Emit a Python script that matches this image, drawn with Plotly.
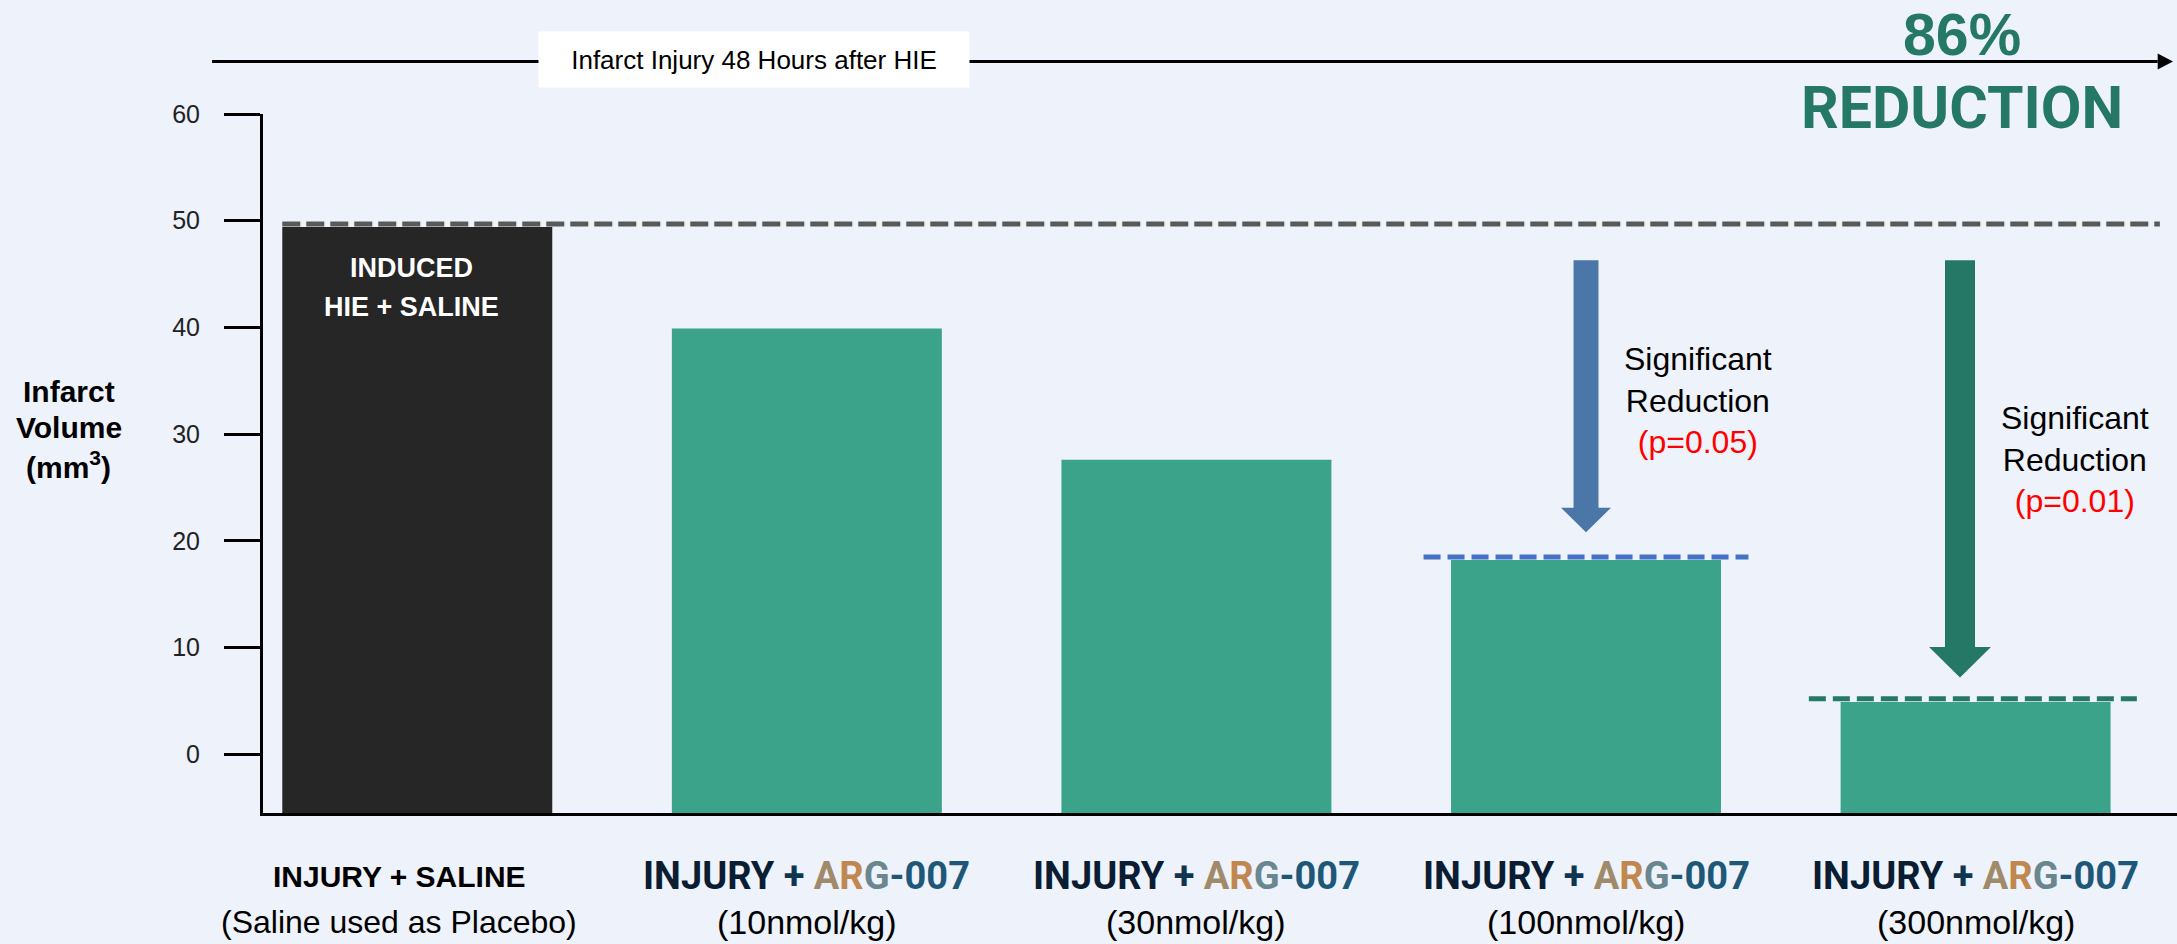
import plotly.graph_objects as go

# ---------------- data ----------------
categories = ["Saline", "10nmol/kg", "30nmol/kg", "100nmol/kg", "300nmol/kg"]
positions = [0, 1, 2, 3, 4]
infarct_volume = [49.4, 39.9, 27.6, 18.2, 4.9]
y_ticks = [0, 10, 20, 30, 40, 50, 60]
label_line1 = [
    "INJURY + SALINE",
    "INJURY + ARG-007",
    "INJURY + ARG-007",
    "INJURY + ARG-007",
    "INJURY + ARG-007",
]
label_line2 = [
    "(Saline used as Placebo)",
    "(10nmol/kg)",
    "(30nmol/kg)",
    "(100nmol/kg)",
    "(300nmol/kg)",
]
saline_level = 49.7
dose_levels = [18.5, 5.2]          # dashed markers at 100 & 300 nmol/kg
arrow_x = [3.0, 3.96]
arrow_top = [46.3, 46.3]
arrow_head_base = [23.1, 10.06]
arrow_tip = [20.8, 7.2]
p_values = ["(p=0.05)", "(p=0.01)"]
y_title_lines = ["Infarct", "Volume", "(mm<sup>3</sup>)"]
bar_text_lines = ["INDUCED", "HIE + SALINE"]

# ---------------- style ----------------
Y_MIN, Y_MAX = -5.5, 60
X_MIN, X_MAX = -0.396, 4.517
BAR_W = 0.693
BG = "#EEF2FA"
GREEN = "#3AA38A"
DARK_GREEN = "#267866"
BLUE = "#4A76A8"
DASH_BLUE = "#4472C4"
bar_colors = ["#262626", GREEN, GREEN, GREEN, GREEN]
SANS = "Liberation Sans, Arial, sans-serif"
ROBOTO = "Roboto, Liberation Sans, sans-serif"

fig = go.Figure()
fig.add_trace(go.Bar(
    x=positions,
    y=[v - Y_MIN for v in infarct_volume],
    base=[Y_MIN] * len(positions),
    width=BAR_W,
    marker=dict(color=bar_colors, line=dict(width=0)),
    hoverinfo="skip",
    showlegend=False,
))

shapes = []
# saline reference dashed line
shapes.append(dict(type="line", xref="x", yref="y",
                   x0=positions[0] - BAR_W / 2, x1=4.473,
                   y0=saline_level, y1=saline_level,
                   line=dict(color="#595959", width=5, dash="18px,6px")))
# dose-level dashed lines
dash_specs = [(positions[3], 0.417, DASH_BLUE), (3.993, 0.421, DARK_GREEN)]
for (cx, half, col), lvl in zip(dash_specs, dose_levels):
    shapes.append(dict(type="line", xref="x", yref="y",
                       x0=cx - half, x1=cx + half, y0=lvl, y1=lvl,
                       line=dict(color=col, width=5, dash="17px,7px")))

# thick arrows
arrow_cols = [BLUE, DARK_GREEN]
shaft_half = [0.032, 0.0385]
head_half = [0.064, 0.0795]
for i in range(2):
    cx = arrow_x[i]
    s, h = shaft_half[i], head_half[i]
    path = (f"M {cx - s},{arrow_top[i]} L {cx + s},{arrow_top[i]} "
            f"L {cx + s},{arrow_head_base[i]} L {cx + h},{arrow_head_base[i]} "
            f"L {cx},{arrow_tip[i]} L {cx - h},{arrow_head_base[i]} "
            f"L {cx - s},{arrow_head_base[i]} Z")
    shapes.append(dict(type="path", xref="x", yref="y", path=path,
                       fillcolor=arrow_cols[i], line=dict(width=0)))

# top timeline arrow (paper coordinates)
TL_Y, TL_X0, TL_X1 = 1.075, -0.0266, 0.9979
HEAD_LEN, HEAD_HALF = 0.0080, 0.0115
shapes.append(dict(type="line", xref="paper", yref="paper",
                   x0=TL_X0, x1=TL_X1 - HEAD_LEN, y0=TL_Y, y1=TL_Y,
                   line=dict(color="black", width=3)))
shapes.append(dict(type="path", xref="paper", yref="paper",
                   path=(f"M {TL_X1 - HEAD_LEN},{TL_Y - HEAD_HALF} L {TL_X1},{TL_Y} "
                         f"L {TL_X1 - HEAD_LEN},{TL_Y + HEAD_HALF} Z"),
                   fillcolor="black", line=dict(width=0)))

annotations = []


def ann(**kw):
    kw.setdefault("showarrow", False)
    kw.setdefault("xanchor", "center")
    kw.setdefault("yanchor", "middle")
    annotations.append(kw)


ann(xref="paper", yref="paper", x=0.2565, y=1.0786,
    text="Infarct Injury 48 Hours after HIE",
    bgcolor="white", width=420, height=45, borderpad=5,
    font=dict(family=SANS, size=26, color="black"))
# 86% REDUCTION
ann(xref="paper", yref="paper", x=0.8877, y=1.1137, text="<b>86%</b>",
    font=dict(family=SANS, size=59, color=DARK_GREEN))
ann(xref="paper", yref="paper", x=0.8877, y=1.009, text="<b>REDUCTION</b>",
    font=dict(family=ROBOTO, size=59, color=DARK_GREEN))
# y-axis title, one line at a time
for line, py in zip(y_title_lines, [0.6026, 0.5511, 0.4981]):
    ann(xref="paper", yref="paper", x=-0.1014, y=py, text=f"<b>{line}</b>",
        font=dict(family=SANS, size=30, color="black"))
# text inside saline bar
for line, dy in zip(bar_text_lines, [45.6, 41.95]):
    ann(xref="x", yref="y", x=positions[0], y=dy, xshift=-6,
        text=f"<b>{line}</b>",
        font=dict(family=SANS, size=27, color="white"))
# significance texts
sig_pos = [(3.287, 33.2), (4.255, 27.6)]
for (sx, sy), p in zip(sig_pos, p_values):
    ann(xref="x", yref="y", x=sx, y=sy, align="center",
        text=f"Significant<br>Reduction<br><span style='color:#FF0000'>{p}</span>",
        font=dict(family=SANS, size=32, color="black"))


def arg_label(txt):
    head, plus, drug = txt.partition(" + ")
    return (f"<b><span style='color:#0B1D33'>{head} </span>"
            "<span style='color:#0F3550'>+ </span>"
            f"<span style='color:#A08A6A'>{drug[0]}</span>"
            f"<span style='color:#C08850'>{drug[1]}</span>"
            f"<span style='color:#6A8790'>{drug[2]}</span>"
            f"<span style='color:#1E5878'>{drug[3:]}</span></b>")


for i, pos in enumerate(positions):
    if i == 0:
        t1 = f"<b>{label_line1[i]}</b>"
        f1 = dict(family=SANS, size=30, color="black")
        f2 = dict(family=SANS, size=32, color="black")
        xs = -18
    else:
        t1 = arg_label(label_line1[i])
        f1 = dict(family=ROBOTO, size=38, color="#0B1D33")
        f2 = dict(family=SANS, size=34, color="black")
        xs = 0
    ann(xref="x", yref="paper", x=pos, y=-0.0902, xshift=xs, text=t1, font=f1)
    ann(xref="x", yref="paper", x=pos, y=-0.156, xshift=xs,
        text=label_line2[i], font=f2)

fig.update_layout(
    width=2177, height=944, autosize=False,
    margin=dict(l=263, r=0, t=114, b=131, pad=0),
    paper_bgcolor=BG, plot_bgcolor=BG,
    shapes=shapes, annotations=annotations,
    showlegend=False,
    xaxis=dict(range=[X_MIN, X_MAX], showticklabels=False, ticks="",
               showgrid=False, zeroline=False, showline=True,
               linecolor="black", linewidth=3, fixedrange=True),
    yaxis=dict(range=[Y_MIN, Y_MAX], tickvals=y_ticks, ticks="outside",
               ticklen=36, tickwidth=3, tickcolor="black",
               ticklabelstandoff=19,
               tickfont=dict(family=SANS, size=25, color="#222222"),
               showgrid=False, zeroline=False, showline=True,
               linecolor="black", linewidth=3, fixedrange=True),
)

fig.write_html(
    "out.html",
    config={"displayModeBar": False},
    post_script="document.body.style.margin='0';document.body.style.overflow='hidden';",
)
